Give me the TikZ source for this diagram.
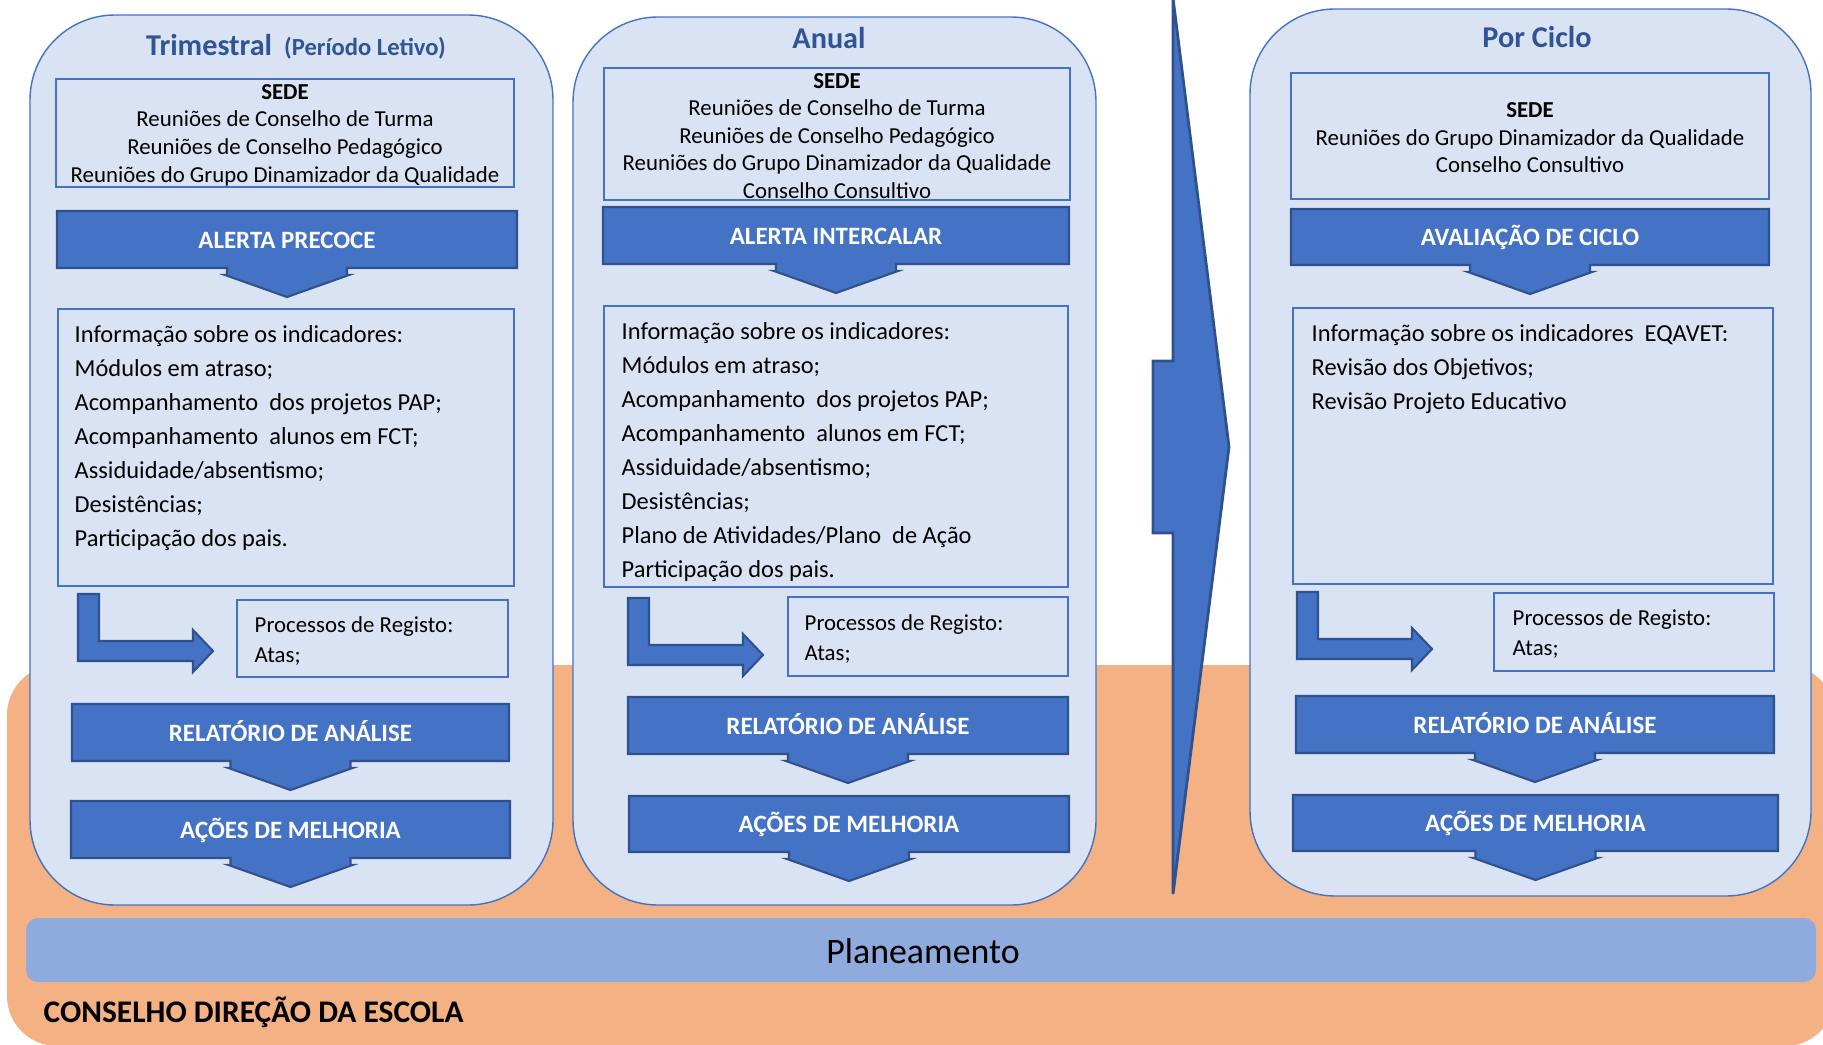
\documentclass[tikz,border=0pt]{standalone}
\usepackage{fontspec}
\setmainfont{Carlito}
\definecolor{azul}{HTML}{4472C4}
\definecolor{azulesc}{HTML}{2F528F}
\definecolor{azulclaro}{HTML}{DAE3F3}
\definecolor{azultit}{HTML}{2F5597}
\definecolor{laranja}{HTML}{F4B183}
\definecolor{azulplan}{HTML}{8FAADC}
% barra com seta para baixo: nome, x1, y1, x2, y2, texto
\newcommand{\barraseta}[6]{%
\pgfmathsetmacro{\cx}{(#2+#4)/2}
\draw[barra](#2,#3)--(#4,#3)--(#4,#5)--(\cx+60,#5)--(\cx+60,#5+7)--(\cx+62,#5+7)--(\cx,#5+29)--(\cx-62,#5+7)--(\cx-60,#5+7)--(\cx-60,#5)--(#2,#5)--cycle;
\node[barratxt,anchor=base](#1)at(\cx,{(#3+#5)/2+8.5}){#6};}
% seta dobrada: nome, canto superior esquerdo
\newcommand{\setadobrada}[3]{%
\draw[barra](#2,#3)coordinate(#1)--++(21,0)--++(0,47)--++(94,0)--++(0,-11)--++(20,21)--++(-20,21)--++(0,-11)--++(-115,0)--cycle;}
\newcommand{\esp}{\hspace{1.1mm}}
\begin{document}
\begin{tikzpicture}[x=0.1mm,y=-0.1mm,
coluna/.style={fill=azulclaro,draw=azul,line width=0.4pt,rounded corners=8.5mm},
caixa/.style={draw=azul,line width=0.5pt},
barra/.style={fill=azul,draw=azulesc,line width=0.6pt},
barratxt/.style={text=white,font=\bfseries\fontsize{7.1}{8}\selectfont,inner sep=0},
titulo/.style={text=azultit,font=\bfseries\fontsize{8.6}{10}\selectfont,inner sep=0},
texto/.style={align=center,font=\fontsize{6.5}{7.85}\selectfont,inner sep=0},
lista/.style={align=left,anchor=west,font=\fontsize{6.95}{9.7}\selectfont,inner sep=0},
registo/.style={align=left,anchor=west,font=\fontsize{6.5}{8.8}\selectfont,inner sep=0}]
\useasboundingbox(0,0)rectangle(1823,1044);
\clip(0,0)rectangle(1823,1044);
% fundo
\fill[laranja,rounded corners=5mm](7,665)rectangle(1835,1046);
\fill[azulplan,rounded corners=1.2mm](26,918)rectangle(1816,982);
\node[anchor=base,inner sep=0,font=\fontsize{10.2}{12}\selectfont](plan)at(923,963){Planeamento};
\node[anchor=base west,inner sep=0,font=\bfseries\fontsize{8.95}{10}\selectfont](cde)at(43,1022){CONSELHO DIREÇÃO DA ESCOLA};
% Trimestral
\draw[coluna](30,15)rectangle(553,905);
\node[titulo,anchor=base](tri)at(296,55){Trimestral\hspace{1.2mm}{\fontsize{7}{8}\selectfont(Período Letivo)}};
\draw[caixa](56,79)rectangle(514,187);
\node[texto](sedeTri)at(285,135){\textbf{SEDE}\\Reuniões de Conselho de Turma\\Reuniões de Conselho Pedagógico\\Reuniões do Grupo Dinamizador da Qualidade};
\barraseta{alertaTri}{57}{211}{517}{268}{ALERTA PRECOCE}
\draw[caixa](58,309)rectangle(514,586);
\node[lista](infoTri)at(74,438){Informação sobre os indicadores:\\Módulos em atraso;\\Acompanhamento\esp dos projetos PAP;\\Acompanhamento\esp alunos em FCT;\\Assiduidade/absentismo;\\Desistências;\\Participação dos pais.};
\setadobrada{dobTri}{78}{594}
\draw[caixa](237,600)rectangle(508,677);
\node[registo](regTri)at(254,641){Processos de Registo:\\Atas;};
\barraseta{relTri}{72}{704}{509}{761}{RELATÓRIO DE ANÁLISE}
\barraseta{acoTri}{71}{801}{510}{858}{AÇÕES DE MELHORIA}
% Anual
\draw[coluna](573,17)rectangle(1096,905);
\node[titulo,anchor=base](anu)at(829,48){Anual};
\draw[caixa](604,68)rectangle(1070,200);
\node[texto](sedeAnu)at(837,136){\textbf{SEDE}\\Reuniões de Conselho de Turma\\Reuniões de Conselho Pedagógico\\Reuniões do Grupo Dinamizador da Qualidade\\Conselho Consultivo};
\barraseta{alertaAnu}{603}{207}{1069}{264}{ALERTA INTERCALAR}
\draw[caixa](604,306)rectangle(1068,587);
\node[lista](infoAnu)at(621,452){Informação sobre os indicadores:\\Módulos em atraso;\\Acompanhamento\esp dos projetos PAP;\\Acompanhamento\esp alunos em FCT;\\Assiduidade/absentismo;\\Desistências;\\Plano de Atividades/Plano\esp de Ação\\Participação dos pais.};
\setadobrada{dobAnu}{628}{598}
\draw[caixa](788,597)rectangle(1068,676);
\node[registo](regAnu)at(804,639){Processos de Registo:\\Atas;};
\barraseta{relAnu}{628}{697}{1068}{754}{RELATÓRIO DE ANÁLISE}
\barraseta{acoAnu}{629}{796}{1069}{852}{AÇÕES DE MELHORIA}
% seta grande
\draw[barra,line width=0.8pt,line join=miter](1173,-2)--(1229,447)--(1173,894)--(1173,533)--(1153,533)--(1153,361)--(1173,361)--cycle;
% Por Ciclo
\draw[coluna](1250,9)rectangle(1811,896);
\node[titulo,anchor=base](cic)at(1537,47){Por Ciclo};
\draw[caixa](1291,73)rectangle(1769,199);
\node[texto](sedeCic)at(1530,138){\textbf{SEDE}\\Reuniões do Grupo Dinamizador da Qualidade\\Conselho Consultivo};
\barraseta{avalCic}{1291}{209}{1769}{265}{AVALIAÇÃO DE CICLO}
\draw[caixa](1293,308)rectangle(1773,584);
\node[lista](infoCic)at(1311,369){Informação sobre os indicadores\esp EQAVET:\\Revisão dos Objetivos;\\Revisão Projeto Educativo};
\setadobrada{dobCic}{1297}{592}
\draw[caixa](1494,593)rectangle(1774,671);
\node[registo](regCic)at(1512,634){Processos de Registo:\\Atas;};
\barraseta{relCic}{1296}{696}{1774}{753}{RELATÓRIO DE ANÁLISE}
\barraseta{acoCic}{1293}{795}{1778}{851}{AÇÕES DE MELHORIA}
\end{tikzpicture}
\end{document}
